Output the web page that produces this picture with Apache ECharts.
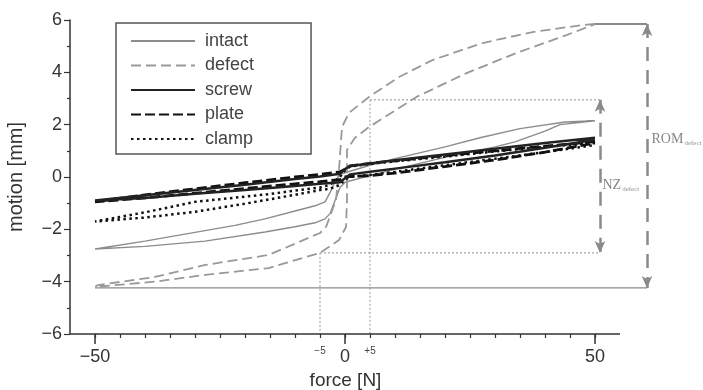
<!DOCTYPE html>
<html>
<head>
<meta charset="utf-8">
<script src="https://cdn.jsdelivr.net/npm/echarts@6/dist/echarts.min.js"></script>
<style>
  html, body { margin: 0; padding: 0; background: #fff; }
  #chart { width: 703px; height: 390px; }
</style>
</head>
<body>
<div id="chart"></div>
<script>
// force [N] / motion [mm] — each curve is a hysteresis loop: unloading branch (50 -> -50), then loading branch (-50 -> 50)
const intactUpper = [[50,2.15],[44,2.1],[35,1.85],[27,1.5],[20,1.15],[10,0.7],[5,0.45],[1,0.22],[-1,0.1],[-2,-0.2],[-3,-0.6],[-4,-0.95],[-6,-1.1],[-10,-1.3],[-16,-1.6],[-22,-1.85],[-28,-2.05],[-40,-2.45],[-50,-2.75]];
const intactLower = [[-50,-2.8],[-40,-2.65],[-28,-2.45],[-16,-2.1],[-10,-1.9],[-6,-1.75],[-4,-1.6],[-3,-1.4],[-2,-0.9],[-1,-0.4],[0,-0.2],[5,0.05],[10,0.3],[20,0.75],[30,1.15],[34,1.34],[40,1.75],[43,2.0],[50,2.15]];

const defectUpper = [[50,5.85],[47.6,5.81],[37.5,5.54],[27.5,5.12],[17.5,4.47],[10.8,3.82],[4.8,3.06],[0.8,2.45],[-0.6,1.91],[-1.2,0.27],[-1.8,-0.88],[-3.8,-1.91],[-5,-2.14],[-15.3,-2.98],[-27.9,-3.36],[-38,-3.82],[-49.4,-4.13],[-50,-4.2]];
const defectLower = [[-50,-4.24],[-38,-4.0],[-27.9,-3.74],[-15.3,-3.48],[-5,-2.9],[-1.2,-2.41],[0.2,-1.91],[0.4,-0.88],[0.4,1.03],[0.8,1.15],[2,1.5],[4.8,1.91],[14.3,3.06],[24.3,3.97],[34.3,4.74],[44.4,5.43],[49.6,5.81],[50,5.85]];

const screwUpper = [[50,1.5],[40,1.3],[30,1.08],[20,0.86],[10,0.64],[5,0.52],[1,0.42],[0,0.3],[-1,0.12],[-5,0.02],[-10,-0.08],[-20,-0.3],[-30,-0.5],[-40,-0.7],[-50,-0.9]];
const screwLower = [[-50,-0.92],[-40,-0.8],[-30,-0.64],[-20,-0.5],[-10,-0.34],[-5,-0.26],[-1,-0.2],[0,-0.05],[1,0.1],[5,0.2],[10,0.32],[20,0.56],[30,0.82],[40,1.12],[50,1.42]];

const plateUpper = [[50,1.35],[40,1.18],[30,1.0],[20,0.82],[10,0.62],[5,0.52],[1,0.42],[0,0.3],[-1,0.2],[-5,0.1],[-10,0.0],[-20,-0.22],[-30,-0.45],[-40,-0.68],[-50,-0.95]];
const plateLower = [[-50,-0.97],[-40,-0.8],[-30,-0.62],[-20,-0.44],[-10,-0.26],[-5,-0.18],[-1,-0.1],[0,0.0],[1,0.02],[5,0.05],[10,0.15],[20,0.4],[30,0.65],[40,0.95],[50,1.3]];

const clampUpper = [[50,1.3],[40,1.15],[30,0.98],[20,0.78],[10,0.6],[5,0.5],[1,0.4],[0,0.25],[-1,0.0],[-3,-0.3],[-5,-0.4],[-10,-0.52],[-15,-0.65],[-20,-0.75],[-30,-0.95],[-40,-1.35],[-50,-1.7]];
const clampLower = [[-50,-1.72],[-40,-1.55],[-30,-1.33],[-20,-1.02],[-15,-0.85],[-10,-0.68],[-5,-0.5],[-3,-0.45],[-1,-0.3],[0,-0.1],[1,0.0],[5,0.08],[10,0.2],[20,0.45],[30,0.7],[40,0.95],[50,1.22]];

// annotation values
const nzForce = [-5, 5];
const nzBounds = [-2.9, 2.95];      // NZ defect at -5 N / +5 N
const romBounds = [-4.24, 5.85];    // ROM defect
const nzArrowX = 51;
const romArrowX = 60.4;

// drawn axis span (the plotting area runs a bit further right for the ROM arrow)
const xSpan = [-55, 55];
const yMin = -6;
const xTicksMajor = [-50, 0, 50];
const xTicksMinor = [-50,-45,-40,-35,-30,-25,-20,-15,-10,-5,0,5,10,15,20,25,30,35,40,45,50];
const xLabels = [-50, -5, 0, 5, 50];

const grayLine = '#8a8a8a';
const minus = (v) => String(v).replace('-', '\u2212');

function loop(name, up, low, style) {
  return {
    name: name, type: 'line', data: up.concat(low),
    showSymbol: false, symbol: 'none', lineStyle: style, itemStyle: { color: style.color }, z: 3
  };
}
function seg(pts, style, z) {
  return { type: 'line', data: pts, showSymbol: false, symbol: 'none', clip: false,
    lineStyle: style, silent: true, z: z || 2 };
}

const chart = echarts.init(document.getElementById('chart'));

const option = {
  animation: false,
  textStyle: { fontFamily: 'Liberation Sans' },
  grid: { left: 70, right: 48, top: 20, bottom: 56, outerBoundsMode: 'none' },
  legend: {
    data: ['intact', 'defect', 'screw', 'plate', 'clamp'],
    orient: 'vertical', left: 116, top: 23,
    padding: [9, 57, 6, 14],
    itemWidth: 64, itemHeight: 14, itemGap: 6.5,
    borderColor: '#555', borderWidth: 1.5,
    itemStyle: { opacity: 0 },
    textStyle: { fontSize: 18, color: '#444', lineHeight: 18, padding: [0, 0, 0, 5] }
  },
  xAxis: [{
    type: 'value', min: -55, max: 62,
    name: 'force [N]', nameLocation: 'middle', nameGap: 31,
    nameTextStyle: { fontSize: 19, color: '#333', padding: [0, 34, 0, 0] },
    axisLine: { show: false, onZero: false },
    axisTick: { customValues: xTicksMinor, length: 4, lineStyle: { color: '#333', width: 1.2 } },
    axisLabel: {
      customValues: xLabels, margin: 14,
      formatter: (v) => {
        if (v === -5) return '{s|\u22125}';
        if (v === 5) return '{s|+5}';
        return '{b|' + minus(v) + '}';
      },
      rich: {
        b: { fontSize: 18, color: '#333' },
        s: { fontSize: 10, color: '#444', padding: [-2, 0, 0, 0] }
      }
    },
    splitLine: { show: false }
  }, {
    type: 'value', min: -55, max: 62, position: 'bottom',
    axisLine: { show: false, onZero: false },
    axisTick: { customValues: xTicksMajor, length: 10, lineStyle: { color: '#333', width: 1.5 } },
    axisLabel: { show: false },
    splitLine: { show: false }
  }],
  yAxis: {
    type: 'value', min: -6, max: 6, interval: 2,
    name: 'motion [mm]', nameLocation: 'middle', nameGap: 44,
    nameTextStyle: { fontSize: 20, color: '#333' },
    axisLine: { show: true, onZero: false, lineStyle: { color: '#333', width: 1.5 } },
    axisTick: { show: true, length: 6, lineStyle: { color: '#333', width: 1.2 } },
    minorTick: { show: true, splitNumber: 2, length: 3, lineStyle: { color: '#333', width: 1.2 } },
    axisLabel: { fontSize: 18, color: '#333', margin: 8, formatter: minus },
    splitLine: { show: false }
  },
  series: [
    // x axis line over the drawn span only
    seg([[xSpan[0], yMin], [xSpan[1], yMin]], { color: '#333', width: 1.5 }, 5),
    // NZ / ROM guides
    seg([[nzForce[0], nzBounds[0]], [nzForce[0], yMin]], { color: '#999', width: 1, type: [2, 2] }),
    seg([[nzForce[1], nzBounds[1]], [nzForce[1], yMin]], { color: '#999', width: 1, type: [2, 2] }),
    seg([[nzForce[1], nzBounds[1]], [nzArrowX, nzBounds[1]]], { color: '#aaa', width: 1.3, type: [2, 2] }),
    seg([[nzForce[0], nzBounds[0]], [nzArrowX, nzBounds[0]]], { color: '#aaa', width: 1.3, type: [2, 2] }),
    seg([[-50, romBounds[0]], [romArrowX, romBounds[0]]], { color: grayLine, width: 1.2 }),
    seg([[50, romBounds[1]], [romArrowX, romBounds[1]]], { color: grayLine, width: 2 }),
    {
      type: 'line', data: [], clip: false, silent: true,
      markLine: {
        silent: true, symbol: ['arrow', 'arrow'], symbolSize: [8, 12],
        label: { show: false },
        lineStyle: { color: grayLine, width: 2.5, type: [14, 9] },
        data: [
          [{ coord: [nzArrowX, nzBounds[1]] }, { coord: [nzArrowX, nzBounds[0]] }],
          [{ coord: [romArrowX, romBounds[1]] }, { coord: [romArrowX, romBounds[0]] }]
        ]
      }
    },
    {
      type: 'scatter', clip: false, silent: true, symbolSize: 1,
      itemStyle: { color: 'rgba(0,0,0,0)' },
      data: [
        { value: [nzArrowX + 0.4, -0.3], name: 'NZ' },
        { value: [romArrowX + 0.8, 1.45], name: 'ROM' }
      ],
      label: {
        show: true, position: 'right', distance: 0,
        formatter: (p) => '{a|' + p.name + '}{b|defect}',
        rich: {
          a: { fontFamily: 'Liberation Serif', fontSize: 14, color: '#666' },
          b: { fontFamily: 'Liberation Serif', fontSize: 7, color: '#777', padding: [8, 0, 0, 1] }
        }
      }
    },
    loop('intact', intactUpper, intactLower, { color: '#8c8c8c', width: 1.4 }),
    loop('defect', defectUpper, defectLower, { color: '#999', width: 1.8, type: [10, 5] }),
    loop('clamp', clampUpper, clampLower, { color: '#111', width: 2.5, type: [2.5, 3.5] }),
    loop('plate', plateUpper, plateLower, { color: '#111', width: 2.8, type: [10, 4] }),
    loop('screw', screwUpper, screwLower, { color: '#222', width: 2.5 })
  ]
};

chart.setOption(option);
</script>
</body>
</html>
